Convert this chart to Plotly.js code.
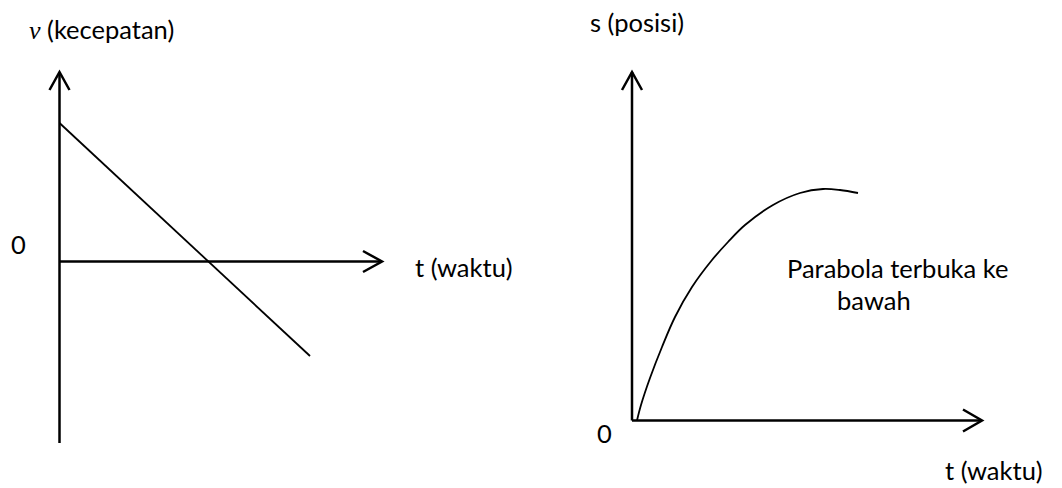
<!DOCTYPE html>
<html>
<head>
<meta charset="utf-8">
<script src="https://cdn.plot.ly/plotly-3.0.1.min.js"></script>
<style>html,body{margin:0;padding:0;background:#fff;}#chart{width:1062px;height:488px;}</style>
</head>
<body>
<div id="chart"></div>
<script>
// Left graph: v (kecepatan) vs t (waktu) — straight line crossing zero
const velTime = [0, 5.01];
const velValues = [2.77, -1.89];

// Right graph: s (posisi) vs t (waktu) — parabola opening downward
const posTime = [0.10, 0.18, 0.36, 0.60, 0.86, 1.20, 1.60, 1.92, 2.26, 2.82, 3.36, 3.82, 4.16, 4.52];
const posValues = [0.00, 0.31, 0.85, 1.47, 2.07, 2.67, 3.21, 3.57, 3.91, 4.31, 4.55, 4.63, 4.61, 4.55];

// Labels
const leftYLabel = "<span style='font-family:Liberation Serif;font-size:26px'><i>v</i></span> (kecepatan)";
const leftXLabel = "t (waktu)";
const rightYLabel = "s (posisi)";
const rightXLabel = "t (waktu)";
const zeroLabel = "0";
const curveNote1 = "Parabola terbuka ke";
const curveNote2 = "bawah";

const W = 1062, H = 488;
const font = {family: "Lato, 'Noto Sans', sans-serif", size: 25.5, color: "#000"};

const traces = [
  {x: velTime, y: velValues, xaxis: 'x', yaxis: 'y', mode: 'lines',
   line: {color: '#000', width: 1.8}, hoverinfo: 'skip'},
  {x: posTime, y: posValues, xaxis: 'x2', yaxis: 'y2', mode: 'lines',
   line: {color: '#000', width: 1.8, shape: 'spline', smoothing: 1}, hoverinfo: 'skip'}
];

const axW = 2.5;
function seg(xr, yr, x0, y0, x1, y1) {
  return {type: 'line', xref: xr, yref: yr, x0: x0, y0: y0, x1: x1, y1: y1,
          line: {color: '#000', width: axW}};
}
function path(xr, yr, d) {
  return {type: 'path', xref: xr, yref: yr, path: d, line: {color: '#000', width: axW}};
}

const shapes = [
  seg('x', 'y', 0, -3.63, 0, 3.79),
  path('x', 'y', 'M -0.2,3.43 L 0,3.79 L 0.2,3.43'),
  seg('x', 'y', 0, 0, 6.45, 0),
  path('x', 'y', 'M 6.07,0.21 L 6.45,0 L 6.07,-0.21'),
  seg('x2', 'y2', 0, 0, 0, 6.97),
  path('x2', 'y2', 'M -0.2,6.61 L 0,6.97 L 0.2,6.61'),
  seg('x2', 'y2', 0, 0, 7.0, 0),
  path('x2', 'y2', 'M 6.62,0.22 L 7.0,0 L 6.62,-0.22')
];

function ann(text, px, py) {
  return {text: text, xref: 'paper', yref: 'paper', x: px / W, y: 1 - py / H,
          xanchor: 'left', yanchor: 'middle', showarrow: false, font: font, borderpad: 0};
}

const annotations = [
  ann(leftYLabel, 28, 29),
  ann(zeroLabel, 10, 244),
  ann(leftXLabel, 414, 267),
  ann(rightYLabel, 589, 22),
  ann(curveNote1, 786, 268),
  ann(curveNote2, 836, 300),
  ann(zeroLabel, 596, 433),
  ann(rightXLabel, 944, 470)
];

const hidden = {visible: false, fixedrange: true};

const layout = {
  width: W, height: H,
  margin: {l: 0, r: 0, t: 0, b: 0, pad: 0},
  paper_bgcolor: '#fff', plot_bgcolor: '#fff',
  showlegend: false,
  xaxis: Object.assign({domain: [0, 0.5], range: [-59.5 / 50, (531 - 59.5) / 50]}, hidden),
  yaxis: Object.assign({domain: [0, 1], range: [(261.5 - 488) / 50, 261.5 / 50]}, hidden),
  xaxis2: Object.assign({domain: [0.5, 1], range: [-(632 - 531) / 50, (1062 - 632) / 50], anchor: 'y2'}, hidden),
  yaxis2: Object.assign({domain: [0, 1], range: [-(488 - 420.5) / 50, 420.5 / 50], anchor: 'x2'}, hidden),
  shapes: shapes,
  annotations: annotations
};

Plotly.newPlot('chart', traces, layout, {staticPlot: true, displayModeBar: false});
</script>
</body>
</html>
